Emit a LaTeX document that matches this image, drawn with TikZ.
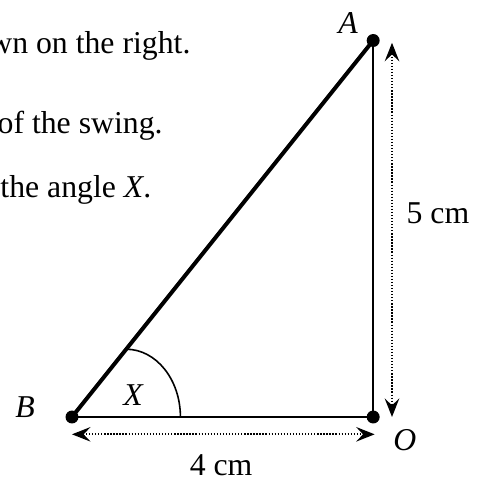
\documentclass[tikz,border=0pt]{standalone}
\usepackage{fontspec}
\setmainfont{Liberation Serif}
\usepackage{tikz}
\usetikzlibrary{arrows.meta, positioning, calc}

\begin{document}
\begin{tikzpicture}[
  font=\fontsize{12}{14}\selectfont,
  pt/.style={circle, fill=black, inner sep=0pt, minimum size=4.9pt},
  side/.style={line width=0.8pt},
  hyp/.style={line width=1.5pt},
  ang/.style={line width=0.6pt},
  dim/.style={{Stealth[length=7pt, width=5.5pt, inset=2.6pt]}-{Stealth[length=7pt, width=5.5pt, inset=2.6pt]},
              dash pattern=on 0.5pt off 0.65pt, line width=0.65pt},
  txt/.style={anchor=base east, inner sep=0pt},
  lbl/.style={font=\fontsize{12}{14}\selectfont\itshape},
]
\clip (-0.956,-0.837) rectangle (5.485,5.538);

%% ---- question text (cut off at the left) ----
\node[txt] (t1) at (1.58,4.83) {wn on the right.};
\node[txt] (t2) at (1.21,3.77) {of the swing.};
\node[txt] (t3) at (1.06,2.92) {the angle \textit{X}.};

%% ---- triangle ----
\node[pt] (B) at (0,0) {};
\node[pt] (O) at (4,0) {};
\node[pt] (A) at (4,5) {};

\draw[hyp]  (B.center) -- (A.center);
\draw[side] (B.center) -- (O.center) -- (A.center);

%% angle X
\draw[ang] ($(B.center)!0.18!(A.center)$) arc[start angle=90, end angle=0, x radius=0.72, y radius=0.9];
\node[lbl] (X) at (0.81,0.29) {X};

\node[lbl] (la) at (3.665,5.23) {A};
\node[lbl] (lb) at (-0.624,0.133) {B};
\node[lbl] (lo) at (4.42,-0.305) {O};

%% ---- dimensions ----
\coordinate (hl) at (0,-0.23);
\coordinate (hr) at (4.02,-0.23);
\draw[dim] (hl) -- (hr);
\node (w) at (1.98,-0.64) {4 cm};

\coordinate (vt) at (4.25,4.97);
\coordinate (vb) at (4.25,0);
\draw[dim] (vt) -- (vb);
\node (h) at (4.86,2.7) {5 cm};

\end{tikzpicture}
\end{document}
